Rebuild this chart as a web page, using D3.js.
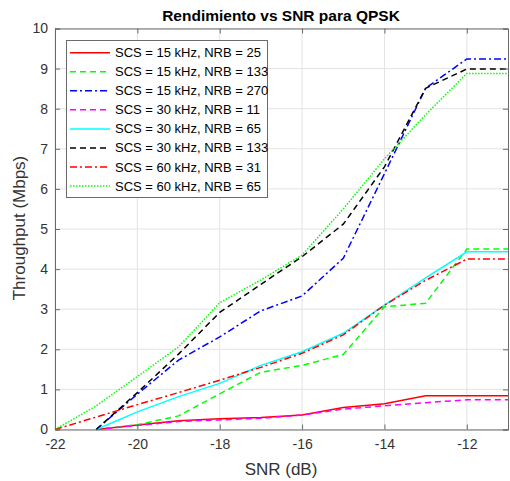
<!DOCTYPE html>
<html>
<head>
<meta charset="utf-8">
<script src="https://cdn.jsdelivr.net/npm/d3@7"></script>
<style>
  body { margin: 0; background: #fff; }
  svg { display: block; font-family: "Liberation Sans", Arial, sans-serif; }
</style>
</head>
<body>
<svg id="chart" width="510" height="481"></svg>
<script>
const snr = [-22, -21, -20, -19, -18, -17, -16, -15, -14, -13, -12, -11];

// null = no point at that SNR
const s15_25  = [null, 0, 0.11, 0.22, 0.27, 0.30, 0.36, 0.55, 0.64, 0.84, 0.84, 0.84];
const s15_133 = [null, 0, 0.12, 0.34, 0.89, 1.43, 1.60, 1.87, 3.06, 3.15, 4.50, 4.50];
const s15_270 = [null, 0, 0.88, 1.73, 2.31, 2.96, 3.33, 4.27, 6.38, 8.51, 9.24, 9.24];
const s30_11  = [null, 0, 0.10, 0.20, 0.24, 0.28, 0.36, 0.51, 0.59, 0.67, 0.74, 0.74];
const s30_65  = [null, 0, 0.44, 0.82, 1.15, 1.60, 1.94, 2.40, 3.10, 3.78, 4.43, 4.43];
const s30_133 = [null, 0, 0.92, 1.88, 2.92, 3.62, 4.31, 5.12, 6.55, 8.51, 8.99, 8.99];
const s60_31  = [0, 0.31, 0.62, 0.92, 1.23, 1.55, 1.90, 2.36, 3.10, 3.72, 4.25, 4.25];
const s60_65  = [0, 0.59, 1.32, 2.06, 3.16, 3.73, 4.35, 5.50, 6.75, 7.85, 8.88, 8.88];

const seriesNames = [
  'SCS = 15 kHz, NRB = 25',
  'SCS = 15 kHz, NRB = 133',
  'SCS = 15 kHz, NRB = 270',
  'SCS = 30 kHz, NRB = 11',
  'SCS = 30 kHz, NRB = 65',
  'SCS = 30 kHz, NRB = 133',
  'SCS = 60 kHz, NRB = 31',
  'SCS = 60 kHz, NRB = 65'
];
const seriesValues = [s15_25, s15_133, s15_270, s30_11, s30_65, s30_133, s60_31, s60_65];
const seriesColors = ['#ff0000', '#00ff00', '#0000ff', '#ff00ff', '#00ffff', '#000000', '#ff0000', '#00ff00'];
const seriesDash = ['none', '6,4', '7,3,2,3', '6,4', 'none', '6,4', '7,3,2,3', '1.5,1.5'];

const xTicks = [-22, -20, -18, -16, -14, -12];
const yTicks = [0, 1, 2, 3, 4, 5, 6, 7, 8, 9, 10];

const L = 55, R = 508, T = 28.5, B = 429.5;
const svg = d3.select('#chart');

const x = d3.scaleLinear().domain([-22, -11]).range([L, R]);
const y = d3.scaleLinear().domain([0, 10]).range([B, T]);

// grid
const grid = svg.append('g');
grid.selectAll('line.gx').data(xTicks).join('line')
  .attr('x1', d => x(d)).attr('x2', d => x(d))
  .attr('y1', T).attr('y2', B)
  .attr('stroke', '#e3e3e3').attr('stroke-width', 1);
grid.selectAll('line.gy').data(yTicks).join('line')
  .attr('x1', L).attr('x2', R)
  .attr('y1', d => y(d)).attr('y2', d => y(d))
  .attr('stroke', '#e3e3e3').attr('stroke-width', 1);

// lines
const line = d3.line()
  .defined(d => d[1] !== null)
  .x(d => x(d[0])).y(d => y(d[1]));

const plot = svg.append('g');
seriesValues.forEach((vals, i) => {
  plot.append('path')
    .datum(snr.map((s, j) => [s, vals[j]]))
    .attr('fill', 'none')
    .attr('stroke', seriesColors[i])
    .attr('stroke-width', 1.5)
    .attr('stroke-dasharray', seriesDash[i])
    .attr('d', line);
});

// axes
const axisColor = '#6a6a6a';
const textColor = '#333';
const xAxis = svg.append('g').attr('transform', `translate(0,${B})`)
  .call(d3.axisBottom(x).tickValues(xTicks).tickSize(-5).tickPadding(10).tickFormat(d => d < 0 ? '-' + Math.abs(d) : d));
const yAxis = svg.append('g').attr('transform', `translate(${L},0)`)
  .call(d3.axisLeft(y).tickValues(yTicks).tickSize(-5).tickPadding(7));
const xTop = svg.append('g').attr('transform', `translate(0,${T})`)
  .call(d3.axisTop(x).tickValues(xTicks).tickSize(-5).tickFormat(''));
const yRight = svg.append('g').attr('transform', `translate(${R},0)`)
  .call(d3.axisRight(y).tickValues(yTicks).tickSize(-5).tickFormat(''));

[xAxis, yAxis, xTop, yRight].forEach(g => {
  g.select('.domain').attr('stroke', axisColor);
  g.selectAll('.tick line').attr('stroke', axisColor);
  g.selectAll('.tick text').attr('fill', textColor)
    .style('font-size', '14px').style('font-family', '"Liberation Sans", Arial, sans-serif');
});

// title & labels
svg.append('text')
  .attr('x', 281).attr('y', 21)
  .attr('text-anchor', 'middle')
  .style('font-size', '15.5px').style('font-weight', 'bold')
  .attr('fill', '#000')
  .text('Rendimiento vs SNR para QPSK');

svg.append('text')
  .attr('x', 281).attr('y', 475)
  .attr('text-anchor', 'middle')
  .style('font-size', '17px')
  .attr('fill', textColor)
  .text('SNR (dB)');

svg.append('text')
  .attr('transform', `translate(25,${(T + B) / 2 - 1}) rotate(-90)`)
  .attr('text-anchor', 'middle')
  .style('font-size', '17px')
  .attr('fill', textColor)
  .text('Throughput (Mbps)');

// legend
const lg = svg.append('g');
lg.append('rect')
  .attr('x', 66.5).attr('y', 40.5).attr('width', 201).attr('height', 157)
  .attr('fill', '#fff').attr('stroke', axisColor).attr('stroke-width', 1);
seriesNames.forEach((name, i) => {
  const cy = 52.7 + i * 19.05;
  lg.append('line')
    .attr('x1', 70).attr('x2', 110).attr('y1', cy).attr('y2', cy)
    .attr('stroke', seriesColors[i]).attr('stroke-width', 1.5)
    .attr('stroke-dasharray', seriesDash[i]);
  lg.append('text')
    .attr('x', 115).attr('y', cy + 4.5)
    .style('font-size', '13px')
    .attr('fill', '#000')
    .text(name);
});
</script>
</body>
</html>
